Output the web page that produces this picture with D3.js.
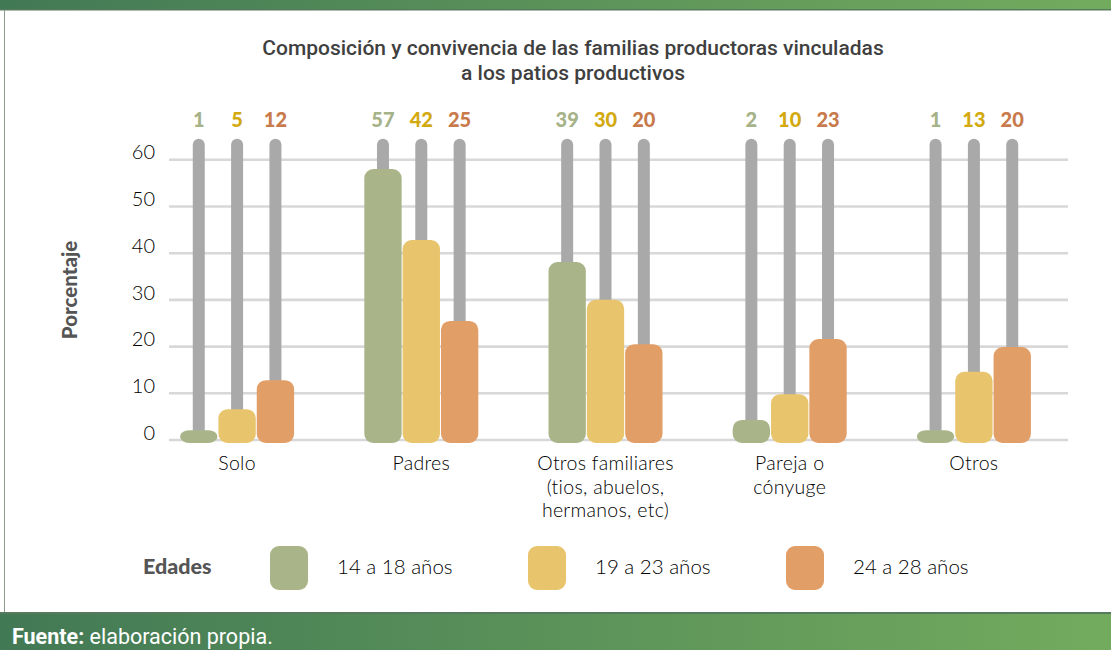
<!DOCTYPE html>
<html>
<head>
<meta charset="utf-8">
<script src="https://cdn.jsdelivr.net/npm/d3@7"></script>
<style>
  html, body { margin: 0; padding: 0; background: #fff; }
  svg { display: block; }
</style>
</head>
<body>
<div id="chart"></div>
<script>
// categories and series
const categories = ['Solo', 'Padres', 'Otros familiares', 'Pareja o cónyuge', 'Otros'];
const categoryLines = [
  ['Solo'],
  ['Padres'],
  ['Otros familiares', '(tios, abuelos,', 'hermanos, etc)'],
  ['Pareja o', 'cónyuge'],
  ['Otros']
];
const series = ['14 a 18 años', '19 a 23 años', '24 a 28 años'];

// printed values above each column
const labels14 = [1, 57, 39, 2, 1];
const labels19 = [5, 42, 30, 10, 13];
const labels24 = [12, 25, 20, 23, 20];

// bar heights as drawn in the picture
const bars14 = [2, 57.9, 38, 4.2, 2];
const bars19 = [6.5, 42.7, 29.9, 9.7, 14.5];
const bars24 = [12.7, 25.4, 20.4, 21.5, 19.8];

const yTicks = [0, 10, 20, 30, 40, 50, 60];

const W = 1111, H = 650;
const fills = ['#a9b589', '#e8c56c', '#e29e67'];
const labelColors = ['#a6b287', '#d2a90f', '#c87a4b'];

const svg = d3.select('#chart').append('svg')
  .attr('width', W).attr('height', H);

const defs = svg.append('defs');
const grad = defs.append('linearGradient').attr('id', 'band')
  .attr('x1', '0%').attr('x2', '100%').attr('y1', '0%').attr('y2', '0%');
grad.append('stop').attr('offset', '0%').attr('stop-color', '#427955');
grad.append('stop').attr('offset', '100%').attr('stop-color', '#73ab5e');

// header / footer bands and card border
svg.append('rect').attr('x', 0).attr('y', 0).attr('width', W).attr('height', 9).attr('fill', 'url(#band)');
svg.append('rect').attr('x', 0).attr('y', 9).attr('width', W).attr('height', 1.5).attr('fill', '#557a5d');
svg.append('line').attr('x1', 4.5).attr('x2', 4.5).attr('y1', 10).attr('y2', 612)
  .attr('stroke', '#8a9a8c').attr('stroke-width', 1);
svg.append('rect').attr('x', 0).attr('y', 612).attr('width', W).attr('height', 2).attr('fill', '#557a5d');
svg.append('rect').attr('x', 0).attr('y', 614).attr('width', W).attr('height', H - 614).attr('fill', 'url(#band)');

const foot = svg.append('text')
  .attr('x', 12).attr('y', 644)
  .style('font-family', 'Roboto, sans-serif').style('font-size', '21.5px').attr('fill', '#fff');
foot.append('tspan').style('font-weight', 700).text('Fuente:');
foot.append('tspan').text(' elaboración propia.');

// title
const title = svg.append('text')
  .attr('text-anchor', 'middle')
  .style('font-family', 'Roboto, sans-serif').style('font-size', '21px').style('font-weight', 500)
  .attr('fill', '#3f3f3f');
title.append('tspan').attr('x', 573).attr('y', 55).text('Composición y convivencia de las familias productoras vinculadas');
title.append('tspan').attr('x', 573).attr('y', 80).text('a los patios productivos');

// scales
const y = d3.scaleLinear().domain([0, 60]).range([439.5, 159.3]);
const x0 = d3.scaleBand().domain(categories).range([145, 1066]).padding(0);
const groupW = 115;
const x1 = d3.scaleBand().domain(series).range([0, groupW]).padding(0);
const groupLeft = c => x0(c) + x0.bandwidth() / 2 - groupW / 2;

// grid + y ticks
const yAxis = svg.append('g')
  .attr('transform', 'translate(169,0)')
  .call(d3.axisLeft(y).tickValues(yTicks).tickSize(-(1068 - 169)).tickPadding(14));
yAxis.select('.domain').remove();
yAxis.selectAll('.tick line').attr('stroke', '#d8d8d8').attr('stroke-width', 2.6);
yAxis.selectAll('.tick text')
  .attr('dy', '-0.02em')
  .style('font-family', 'Lato, sans-serif').style('font-size', '20px').style('font-weight', 300)
  .attr('fill', '#000');

// y title
svg.append('text')
  .attr('transform', 'translate(77,290) rotate(-90)')
  .attr('text-anchor', 'middle')
  .style('font-family', 'Lato, sans-serif').style('font-size', '20.5px').style('font-weight', 900)
  .attr('fill', '#555')
  .text('Porcentaje');

const rows = categories.map((c, i) => ({
  cat: c,
  items: [
    { s: series[0], v: bars14[i], lab: labels14[i], k: 0 },
    { s: series[1], v: bars19[i], lab: labels19[i], k: 1 },
    { s: series[2], v: bars24[i], lab: labels24[i], k: 2 }
  ]
}));

const groups = svg.append('g').selectAll('g.grp')
  .data(rows).join('g')
  .attr('class', 'grp')
  .attr('transform', d => `translate(${groupLeft(d.cat)},0)`);

const stemW = 12;
const stemTop = y(64.4);
const base = y(0) + 3.5;

// gray stems
groups.selectAll('rect.stem')
  .data(d => d.items).join('rect')
  .attr('class', 'stem')
  .attr('x', d => x1(d.s) + x1.bandwidth() / 2 - stemW / 2)
  .attr('y', stemTop)
  .attr('width', stemW)
  .attr('height', d => y(d.v) - stemTop + 8)
  .attr('rx', stemW / 2)
  .attr('fill', '#a9a9a9');

// colored bars
groups.selectAll('rect.bar')
  .data(d => d.items).join('rect')
  .attr('class', 'bar')
  .attr('x', d => x1(d.s) + 0.5)
  .attr('y', d => y(d.v))
  .attr('width', x1.bandwidth() - 1)
  .attr('height', d => base - y(d.v))
  .attr('rx', 9)
  .attr('fill', d => fills[d.k]);

// value labels
groups.selectAll('text.val')
  .data(d => d.items).join('text')
  .attr('class', 'val')
  .attr('x', d => x1(d.s) + x1.bandwidth() / 2)
  .attr('y', 127)
  .attr('text-anchor', 'middle')
  .style('font-family', 'Lato, sans-serif').style('font-size', '20px').style('font-weight', 900)
  .attr('fill', d => labelColors[d.k])
  .text(d => d.lab);

// category labels
groups.each(function (d, i) {
  const t = d3.select(this).append('text')
    .attr('text-anchor', 'middle')
    .style('font-family', 'Lato, sans-serif').style('font-size', '19.5px').style('font-weight', 300)
    .attr('letter-spacing', '0.3px')
    .attr('fill', '#000');
  categoryLines[i].forEach((line, j) => {
    t.append('tspan').attr('x', groupW / 2).attr('y', 470 + j * 23.5).text(line);
  });
});

// legend
svg.append('text')
  .attr('x', 143).attr('y', 574)
  .style('font-family', 'Lato, sans-serif').style('font-size', '21.5px').style('font-weight', 900)
  .attr('fill', '#555')
  .text('Edades');

const legendX = [270, 528, 786];
const lg = svg.append('g').selectAll('g')
  .data(series).join('g')
  .attr('transform', (d, i) => `translate(${legendX[i]},546)`);
lg.append('rect')
  .attr('width', 38).attr('height', 44).attr('rx', 9)
  .attr('fill', (d, i) => fills[i]);
lg.append('text')
  .attr('x', 67).attr('y', 28)
  .style('font-family', 'Lato, sans-serif').style('font-size', '20.5px').style('font-weight', 300)
  .attr('fill', '#000')
  .text(d => d);
</script>
</body>
</html>
